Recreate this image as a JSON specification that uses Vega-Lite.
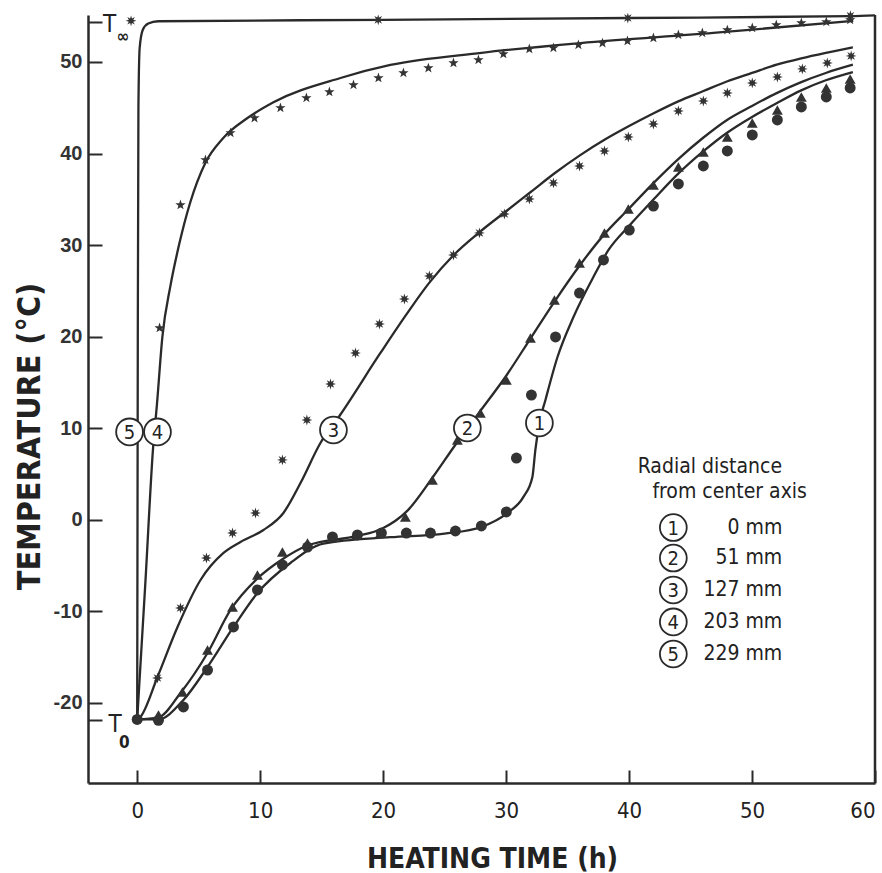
{
  "$schema": "https://vega.github.io/schema/vega-lite/v6.json",
  "width": 787,
  "height": 768,
  "autosize": {"type": "none"},
  "padding": {"left": 88, "top": 15, "right": 7, "bottom": 90},
  "background": "white",
  "config": {"view": {"stroke": null}, "font": "DejaVu Sans Condensed"},
  "datasets": {
    "lines": [
      {"s":"1","t":0,"T":-21.8},{"s":"1","t":1.7,"T":-21.8},{"s":"1","t":3.76,"T":-19.67},{"s":"1","t":5.72,"T":-16.07},{"s":"1","t":7.83,"T":-11.7},{"s":"1","t":9.78,"T":-7.99},{"s":"1","t":12.46,"T":-4.71},{"s":"1","t":15.15,"T":-2.6},{"s":"1","t":20.59,"T":-1.9},{"s":"1","t":25,"T":-1.5},{"s":"1","t":27.99,"T":-0.78},{"s":"1","t":30.11,"T":0.75},{"s":"1","t":31.41,"T":2.5},{"s":"1","t":32.14,"T":4.68},{"s":"1","t":32.38,"T":7.63},{"s":"1","t":32.71,"T":10.58},{"s":"1","t":33.2,"T":13.09},{"s":"1","t":34.18,"T":17.78},{"s":"1","t":35.48,"T":22.15},{"s":"1","t":37.1,"T":26.52},{"s":"1","t":38.33,"T":29.47},{"s":"1","t":40,"T":32.1},{"s":"1","t":42,"T":35.0},{"s":"1","t":44,"T":37.8},{"s":"1","t":46,"T":40.2},{"s":"1","t":48,"T":42.3},{"s":"1","t":50,"T":44.0},{"s":"1","t":52,"T":45.5},{"s":"1","t":54,"T":46.9},{"s":"1","t":56,"T":48.0},{"s":"1","t":58.2,"T":48.9},
      {"s":"2","t":0,"T":-21.8},{"s":"2","t":1.7,"T":-21.6},{"s":"2","t":3.52,"T":-18.91},{"s":"2","t":5.72,"T":-14.54},{"s":"2","t":7.59,"T":-9.84},{"s":"2","t":9.78,"T":-6.4},{"s":"2","t":11.81,"T":-4.3},{"s":"2","t":13.85,"T":-2.8},{"s":"2","t":17.91,"T":-1.75},{"s":"2","t":19.86,"T":-1.0},{"s":"2","t":21.98,"T":1.0},{"s":"2","t":24.01,"T":4.6},{"s":"2","t":25.88,"T":8.2},{"s":"2","t":27.91,"T":11.9},{"s":"2","t":29.94,"T":15.6},{"s":"2","t":31.98,"T":19.8},{"s":"2","t":34.02,"T":24.0},{"s":"2","t":36,"T":27.8},{"s":"2","t":38,"T":31.2},{"s":"2","t":40,"T":34.0},{"s":"2","t":42,"T":36.8},{"s":"2","t":44,"T":39.4},{"s":"2","t":46,"T":41.7},{"s":"2","t":48,"T":43.7},{"s":"2","t":50,"T":45.2},{"s":"2","t":52,"T":46.6},{"s":"2","t":54,"T":47.8},{"s":"2","t":56,"T":48.8},{"s":"2","t":58.2,"T":49.7},
      {"s":"3","t":0,"T":-21.8},{"s":"3","t":0.27,"T":-21.5},{"s":"3","t":1.65,"T":-17.16},{"s":"3","t":3.28,"T":-11.7},{"s":"3","t":5.15,"T":-6.57},{"s":"3","t":7.02,"T":-3.62},{"s":"3","t":8.4,"T":-2.42},{"s":"3","t":10.27,"T":-1.11},{"s":"3","t":11.89,"T":0.75},{"s":"3","t":13.28,"T":4.02},{"s":"3","t":14.9,"T":8.39},{"s":"3","t":16.5,"T":11.45},{"s":"3","t":19.78,"T":18.22},{"s":"3","t":21.98,"T":22.6},{"s":"3","t":23.76,"T":25.9},{"s":"3","t":25.72,"T":28.9},{"s":"3","t":27.91,"T":31.5},{"s":"3","t":30,"T":33.7},{"s":"3","t":32,"T":35.8},{"s":"3","t":34,"T":37.9},{"s":"3","t":36,"T":39.8},{"s":"3","t":38,"T":41.5},{"s":"3","t":40,"T":43.0},{"s":"3","t":42,"T":44.4},{"s":"3","t":44,"T":45.7},{"s":"3","t":46,"T":46.8},{"s":"3","t":48,"T":47.9},{"s":"3","t":50,"T":48.8},{"s":"3","t":52,"T":49.7},{"s":"3","t":54,"T":50.4},{"s":"3","t":56,"T":51.0},{"s":"3","t":58.2,"T":51.6},
      {"s":"4","t":0,"T":-21.8},{"s":"4","t":0.67,"T":-6.75},{"s":"4","t":1.3,"T":8.0},{"s":"4","t":1.6,"T":12.5},{"s":"4","t":2.05,"T":20.0},{"s":"4","t":2.71,"T":25.6},{"s":"4","t":3.4,"T":30.0},{"s":"4","t":4.3,"T":34.6},{"s":"4","t":5.55,"T":39.0},{"s":"4","t":7.0,"T":41.7},{"s":"4","t":8.97,"T":43.88},{"s":"4","t":11.08,"T":45.6},{"s":"4","t":16.53,"T":48.25},{"s":"4","t":20.59,"T":49.67},{"s":"4","t":28,"T":51.0},{"s":"4","t":36.05,"T":52.07},{"s":"4","t":46.85,"T":53.17},{"s":"4","t":58.23,"T":54.48},
      {"s":"5","t":0,"T":-21.8},{"s":"5","t":0.05,"T":20},{"s":"5","t":0.1,"T":45},{"s":"5","t":0.2,"T":51.5},{"s":"5","t":0.45,"T":53.5},{"s":"5","t":0.9,"T":54.2},{"s":"5","t":1.7,"T":54.45},{"s":"5","t":20,"T":54.6},{"s":"5","t":40,"T":54.8},{"s":"5","t":58,"T":55.0},{"s":"5","t":60,"T":55.1}
    ],
    "points": [
      {"s":"1","t":0,"T":-21.8},{"s":"1","t":1.73,"T":-21.9},{"s":"1","t":3.76,"T":-20.44},{"s":"1","t":5.72,"T":-16.4},{"s":"1","t":7.83,"T":-11.7},{"s":"1","t":9.78,"T":-7.66},{"s":"1","t":11.81,"T":-4.93},{"s":"1","t":13.85,"T":-2.97},{"s":"1","t":15.88,"T":-1.87},{"s":"1","t":17.91,"T":-1.65},{"s":"1","t":19.86,"T":-1.44},{"s":"1","t":21.89,"T":-1.44},{"s":"1","t":23.85,"T":-1.44},{"s":"1","t":25.88,"T":-1.22},{"s":"1","t":27.99,"T":-0.67},{"s":"1","t":30.02,"T":0.86},{"s":"1","t":30.84,"T":6.75},{"s":"1","t":32.06,"T":13.63},{"s":"1","t":34.02,"T":19.97},{"s":"1","t":35.97,"T":24.77},{"s":"1","t":37.92,"T":28.38},{"s":"1","t":40.02,"T":31.65},{"s":"1","t":41.98,"T":34.27},{"s":"1","t":44.01,"T":36.68},{"s":"1","t":46.04,"T":38.64},{"s":"1","t":47.99,"T":40.28},{"s":"1","t":50.02,"T":42.03},{"s":"1","t":52.06,"T":43.67},{"s":"1","t":54.01,"T":45.09},{"s":"1","t":56.04,"T":46.18},{"s":"1","t":57.98,"T":47.16},
      {"s":"2","t":1.73,"T":-21.3},{"s":"2","t":3.68,"T":-18.8},{"s":"2","t":5.72,"T":-14.21},{"s":"2","t":7.75,"T":-9.52},{"s":"2","t":9.78,"T":-6.02},{"s":"2","t":11.81,"T":-3.51},{"s":"2","t":13.85,"T":-2.53},{"s":"2","t":15.88,"T":-1.87},{"s":"2","t":17.83,"T":-1.65},{"s":"2","t":19.78,"T":-1.44},{"s":"2","t":21.81,"T":0.31},{"s":"2","t":24.01,"T":4.35},{"s":"2","t":26.04,"T":8.72},{"s":"2","t":27.91,"T":11.67},{"s":"2","t":30.02,"T":15.27},{"s":"2","t":31.98,"T":19.86},{"s":"2","t":33.93,"T":24.01},{"s":"2","t":35.97,"T":28.05},{"s":"2","t":38.0,"T":31.33},{"s":"2","t":39.94,"T":33.95},{"s":"2","t":41.98,"T":36.57},{"s":"2","t":44.01,"T":38.53},{"s":"2","t":46.04,"T":40.17},{"s":"2","t":47.99,"T":41.81},{"s":"2","t":50.02,"T":43.34},{"s":"2","t":52.06,"T":44.76},{"s":"2","t":54.01,"T":46.18},{"s":"2","t":56.04,"T":47.16},{"s":"2","t":57.98,"T":48.14},
      {"s":"3","t":0,"T":-21.8},{"s":"3","t":1.65,"T":-17.27},{"s":"3","t":3.52,"T":-9.63},{"s":"3","t":5.63,"T":-4.17},{"s":"3","t":7.75,"T":-1.44},{"s":"3","t":9.62,"T":0.75},{"s":"3","t":11.81,"T":6.54},{"s":"3","t":13.8,"T":10.9},{"s":"3","t":15.72,"T":14.83},{"s":"3","t":17.75,"T":18.22},{"s":"3","t":19.7,"T":21.39},{"s":"3","t":21.73,"T":24.12},{"s":"3","t":23.76,"T":26.63},{"s":"3","t":25.72,"T":28.92},{"s":"3","t":27.83,"T":31.33},{"s":"3","t":29.86,"T":33.4},{"s":"3","t":31.89,"T":35.04},{"s":"3","t":33.85,"T":36.79},{"s":"3","t":35.97,"T":38.64},{"s":"3","t":38.0,"T":40.28},{"s":"3","t":39.94,"T":41.81},{"s":"3","t":41.98,"T":43.23},{"s":"3","t":44.01,"T":44.65},{"s":"3","t":46.04,"T":45.74},{"s":"3","t":47.99,"T":46.61},{"s":"3","t":50.02,"T":47.71},{"s":"3","t":52.06,"T":48.36},{"s":"3","t":54.09,"T":49.24},{"s":"3","t":56.12,"T":49.89},{"s":"3","t":58.06,"T":50.66},
      {"s":"4","t":1.82,"T":20.95},{"s":"4","t":3.52,"T":34.38},{"s":"4","t":5.55,"T":39.3},{"s":"4","t":7.59,"T":42.25},{"s":"4","t":9.54,"T":43.88},{"s":"4","t":11.65,"T":44.98},{"s":"4","t":13.76,"T":46.07},{"s":"4","t":15.63,"T":46.72},{"s":"4","t":17.59,"T":47.49},{"s":"4","t":19.62,"T":48.25},{"s":"4","t":21.65,"T":48.8},{"s":"4","t":23.68,"T":49.34},{"s":"4","t":25.72,"T":49.89},{"s":"4","t":27.75,"T":50.22},{"s":"4","t":29.78,"T":50.87},{"s":"4","t":31.89,"T":51.42},{"s":"4","t":33.85,"T":51.53},{"s":"4","t":35.88,"T":51.86},{"s":"4","t":37.84,"T":52.07},{"s":"4","t":39.87,"T":52.29},{"s":"4","t":41.98,"T":52.62},{"s":"4","t":44.01,"T":52.95},{"s":"4","t":45.96,"T":53.17},{"s":"4","t":47.99,"T":53.49},{"s":"4","t":50.02,"T":53.71},{"s":"4","t":51.97,"T":54.04},{"s":"4","t":54.01,"T":54.26},{"s":"4","t":56.04,"T":54.37},{"s":"4","t":57.98,"T":54.59},
      {"s":"5","t":0,"T":-21.8},{"s":"5","t":-0.5,"T":54.5},{"s":"5","t":19.6,"T":54.6},{"s":"5","t":39.9,"T":54.8},{"s":"5","t":58.0,"T":55.05}
    ],
    "circles": [
      {"t":-0.62,"T":9.6,"lab":"5"},{"t":1.65,"T":9.6,"lab":"4"},{"t":15.96,"T":9.81,"lab":"3"},{"t":26.85,"T":10.03,"lab":"2"},{"t":32.71,"T":10.58,"lab":"1"},
      {"t":43.6,"T":-0.84,"lab":"1"},{"t":43.6,"T":-4.17,"lab":"2"},{"t":43.6,"T":-7.66,"lab":"3"},{"t":43.6,"T":-11.15,"lab":"4"},{"t":43.6,"T":-14.65,"lab":"5"}
    ],
    "head": [
      {"t":40.7,"T":5.77,"txt":"Radial distance"},
      {"t":41.9,"T":2.99,"txt":"from center axis"}
    ],
    "mm": [
      {"t":52.46,"T":-0.84,"txt":"0 mm"},{"t":52.46,"T":-4.17,"txt":"51 mm"},{"t":52.46,"T":-7.66,"txt":"127 mm"},{"t":52.46,"T":-11.15,"txt":"203 mm"},{"t":52.46,"T":-14.65,"txt":"229 mm"}
    ],
    "tbig": [
      {"t":-2.25,"T":54.0,"txt":"T"},{"t":-1.8,"T":-22.4,"txt":"T"}
    ],
    "tsub": [
      {"t":-1.15,"T":52.7,"txt":"∞"},{"t":-1.05,"T":-24.4,"txt":"0"}
    ]
  },
  "layer": [
    {
      "data": {"name": "lines"},
      "mark": {"type": "line", "interpolate": "monotone", "stroke": "#2a2a2a", "strokeWidth": 2.3},
      "encoding": {
        "x": {"field": "t", "type": "quantitative",
          "scale": {"domain": [-4, 60], "nice": false, "zero": false},
          "axis": {"values": [0,10,20,30,40,50,60], "title": "HEATING TIME (h)", "grid": false,
            "domainColor": "#2a2a2a", "domainWidth": 2.5, "tickColor": "#2a2a2a", "tickWidth": 2, "tickSize": -13,
            "labelFont": "DejaVu Sans Condensed", "labelFontSize": 22, "labelColor": "#222", "labelPadding": 30,
            "labelBaseline": "top", "labelFlush": true, "labelFlushOffset": 0, "labelOverlap": false,
            "titleFont": "DejaVu Sans Condensed", "titleFontSize": 28, "titleFontWeight": "bold", "titleColor": "#222",
            "titleX": 404, "titleY": 84, "titleBaseline": "alphabetic", "titleAlign": "center"}},
        "y": {"field": "T", "type": "quantitative",
          "scale": {"domain": [-28.74, 55.13], "nice": false, "zero": false},
          "axis": {"values": [-21.86,-20,-10,0,10,20,30,40,50,54.4], "title": "TEMPERATURE (°C)", "grid": false,
            "labelExpr": "abs(datum.value - round(datum.value/10)*10) > 0.01 ? '' : '' + datum.value",
            "domainColor": "#2a2a2a", "domainWidth": 2.5, "tickColor": "#2a2a2a", "tickWidth": 2, "tickSize": -14,
            "labelFont": "Liberation Sans", "labelFontSize": 20, "labelFontWeight": "bold", "labelColor": "#333", "labelPadding": 20,
            "labelOverlap": false,
            "titleFont": "DejaVu Sans Condensed", "titleFontSize": 32, "titleFontWeight": "bold", "titleColor": "#222",
            "titleX": -49, "titleY": 421, "titleBaseline": "alphabetic", "titleAlign": "center", "titleAngle": -90}},
        "detail": {"field": "s"}
      }
    },
    {
      "data": {"name": "points"},
      "mark": {"type": "point", "filled": true, "color": "#333", "opacity": 1},
      "encoding": {
        "x": {"field": "t", "type": "quantitative"},
        "y": {"field": "T", "type": "quantitative"},
        "shape": {"field": "s", "type": "nominal", "legend": null,
          "scale": {"domain": ["1","2","3","4","5"], "range": [
            "circle",
            "triangle-up",
            "M0,-1L0.172,-0.416L0.707,-0.707L0.416,-0.172L1,0L0.416,0.172L0.707,0.707L0.172,0.416L0,1L-0.172,0.416L-0.707,0.707L-0.416,0.172L-1,0L-0.416,-0.172L-0.707,-0.707L-0.172,-0.416Z",
            "M0,-1L0.235,-0.324L0.951,-0.309L0.38,0.124L0.588,0.809L0,0.4L-0.588,0.809L-0.38,0.124L-0.951,-0.309L-0.235,-0.324Z",
            "M0,-1L0.172,-0.416L0.707,-0.707L0.416,-0.172L1,0L0.416,0.172L0.707,0.707L0.172,0.416L0,1L-0.172,0.416L-0.707,0.707L-0.416,0.172L-1,0L-0.416,-0.172L-0.707,-0.707L-0.172,-0.416Z"
          ]}},
        "size": {"field": "s", "type": "nominal", "legend": null,
          "scale": {"domain": ["1","2","3","4","5"], "range": [120, 115, 190, 300, 230]}}
      }
    },
    {
      "data": {"values": [{}]},
      "mark": {"type": "rule", "stroke": "#2a2a2a", "strokeWidth": 2.5},
      "encoding": {"x": {"datum": 60}}
    },
    {
      "data": {"name": "circles"},
      "mark": {"type": "point", "shape": "circle", "size": 720, "filled": false, "fill": "white", "fillOpacity": 1, "stroke": "#2a2a2a", "strokeWidth": 1.8, "opacity": 1},
      "encoding": {
        "x": {"field": "t", "type": "quantitative"},
        "y": {"field": "T", "type": "quantitative"}
      }
    },
    {
      "data": {"name": "circles"},
      "mark": {"type": "text", "font": "DejaVu Sans Condensed", "fontSize": 20, "color": "#222", "baseline": "middle", "align": "center", "dy": 1},
      "encoding": {
        "x": {"field": "t", "type": "quantitative"},
        "y": {"field": "T", "type": "quantitative"},
        "text": {"field": "lab"}
      }
    },
    {
      "data": {"name": "head"},
      "mark": {"type": "text", "font": "DejaVu Sans Condensed", "fontSize": 21, "color": "#222", "baseline": "middle", "align": "left"},
      "encoding": {
        "x": {"field": "t", "type": "quantitative"},
        "y": {"field": "T", "type": "quantitative"},
        "text": {"field": "txt"}
      }
    },
    {
      "data": {"name": "mm"},
      "mark": {"type": "text", "font": "DejaVu Sans Condensed", "fontSize": 21, "color": "#222", "baseline": "middle", "align": "right"},
      "encoding": {
        "x": {"field": "t", "type": "quantitative"},
        "y": {"field": "T", "type": "quantitative"},
        "text": {"field": "txt"}
      }
    },
    {
      "data": {"name": "tbig"},
      "mark": {"type": "text", "font": "DejaVu Sans Condensed", "fontSize": 24, "color": "#222", "baseline": "middle", "align": "center"},
      "encoding": {
        "x": {"field": "t", "type": "quantitative"},
        "y": {"field": "T", "type": "quantitative"},
        "text": {"field": "txt"}
      }
    },
    {
      "data": {"name": "tsub"},
      "mark": {"type": "text", "font": "DejaVu Sans Condensed", "fontSize": 17, "fontWeight": "bold", "color": "#222", "baseline": "middle", "align": "center"},
      "encoding": {
        "x": {"field": "t", "type": "quantitative"},
        "y": {"field": "T", "type": "quantitative"},
        "text": {"field": "txt"}
      }
    }
  ]
}
